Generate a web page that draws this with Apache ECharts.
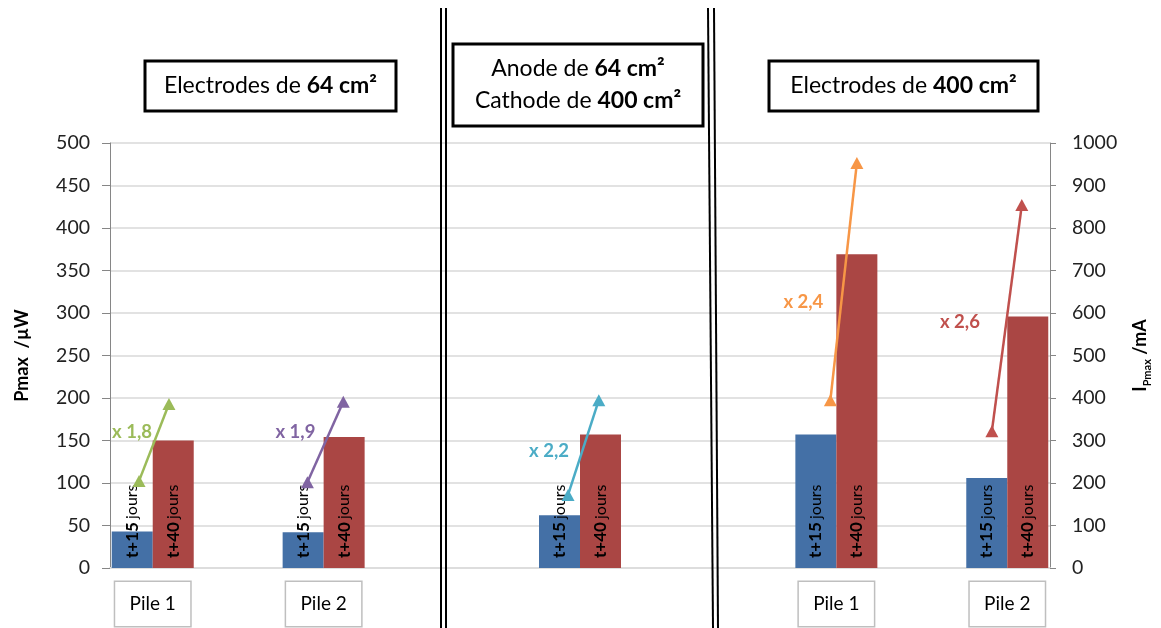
<!DOCTYPE html>
<html>
<head>
<meta charset="utf-8">
<script src="https://cdn.jsdelivr.net/npm/echarts@6/dist/echarts.min.js"></script>
<style>
html,body{margin:0;padding:0;background:#fff;}
#chart{width:1161px;height:628px;}
</style>
</head>
<body>
<div id="chart"></div>
<script>
// ---- data ----
const categories = ['Pile 1', '', 'Pile 2', '', '', '', '', '', 'Pile 1', '', 'Pile 2'];
const seriesNames = ['t+15 jours', 't+40 jours'];
const pmaxT15 = [43, null, 42, null, null, 62, null, null, 157, null, 106];
const pmaxT40 = [150, null, 154, null, null, 157, null, null, 369, null, 296];
const leftTicks = [0, 50, 100, 150, 200, 250, 300, 350, 400, 450, 500];
const rightTicks = [0, 100, 200, 300, 400, 500, 600, 700, 800, 900, 1000];
// I_Pmax arrows (x in category units, y in mA): [start t+15, end t+40]
const ipmaxArrow1 = [[0.34, 205], [0.69, 386]];
const ipmaxArrow2 = [[2.31, 202], [2.73, 391]];
const ipmaxArrow3 = [[5.36, 172], [5.72, 395]];
const ipmaxArrow4 = [[8.43, 395], [8.74, 953]];
const ipmaxArrow5 = [[10.32, 322], [10.67, 854]];
const ratioLabels = ['x 1,8', 'x 1,9', 'x 2,2', 'x 2,4', 'x 2,6'];
const groupTitles = ['Electrodes de {b|64 cm²}', 'Anode de {b|64 cm²}\nCathode de {b|400 cm²}', 'Electrodes de {b|400 cm²}'];

// ---- styles ----
const FONT = 'Lato, "Open Sans", sans-serif';
const arrowColors = ['#9BBB59', '#8064A2', '#4BACC6', '#F79646', '#C0504D'];
const labelOffsets = [[-7, -49], [-12, -50], [-19, -44], [-27, -98], [-32, -109]];
const arrows = [ipmaxArrow1, ipmaxArrow2, ipmaxArrow3, ipmaxArrow4, ipmaxArrow5];

const chart = echarts.init(document.getElementById('chart'));

function barLabel(prefix) {
  return {
    show: true,
    position: 'insideBottom',
    rotate: 90,
    align: 'left',
    verticalAlign: 'middle',
    distance: 10,
    formatter: function (p) { return p.value == null ? '' : '{b|' + prefix + '} {n|jours}'; },
    rich: {
      b: { fontFamily: FONT, fontSize: 17, fontWeight: 'bold', color: '#000' },
      n: { fontFamily: FONT, fontSize: 16, color: '#000' }
    }
  };
}

const lineSeries = arrows.map(function (pts, i) {
  return {
    type: 'line',
    xAxisIndex: 1,
    yAxisIndex: 1,
    z: 5,
    symbol: 'triangle',
    symbolSize: [13, 12],
    color: arrowColors[i],
    lineStyle: { color: arrowColors[i], width: 2.5 },
    itemStyle: { color: arrowColors[i] },
    data: pts.map(function (p, j) {
      if (j === 0) {
        return {
          value: p,
          label: {
            show: true,
            position: 'inside',
            offset: labelOffsets[i],
            formatter: ratioLabels[i],
            fontFamily: FONT,
            fontSize: 18.5,
            fontWeight: 'bold',
            color: arrowColors[i]
          }
        };
      }
      return { value: p };
    }),
    animation: false
  };
});

const titleBoxes = [
  { x: 145, y: 61, w: 251, h: 50 },
  { x: 453, y: 44, w: 250, h: 82 },
  { x: 769, y: 61, w: 269, h: 50 }
];

const graphics = [];
titleBoxes.forEach(function (b, i) {
  graphics.push({
    type: 'rect',
    shape: { x: b.x, y: b.y, width: b.w, height: b.h },
    style: { fill: '#fff', stroke: '#000', lineWidth: 3 },
    z: 100
  });
  graphics.push({
    type: 'text',
    x: b.x + b.w / 2,
    y: b.y + b.h / 2,
    z: 101,
    style: {
      text: groupTitles[i],
      fontFamily: FONT,
      fontSize: 23,
      fill: '#000',
      align: 'center',
      verticalAlign: 'middle',
      lineHeight: 32,
      rich: {
        b: { fontFamily: FONT, fontSize: 23, fontWeight: 'bold', fill: '#000', lineHeight: 32 }
      }
    }
  });
});
// double separators
[[441, 441], [446, 446], [708, 713], [714, 718]].forEach(function (xs) {
  graphics.push({
    type: 'line',
    shape: { x1: xs[0], y1: 8, x2: xs[1], y2: 628 },
    style: { stroke: '#000', lineWidth: 2 },
    z: 100
  });
});

const option = {
  animation: false,
  textStyle: { fontFamily: FONT },
  grid: { left: 110, right: 111, top: 143, bottom: 60, containLabel: false },
  xAxis: [
    {
      type: 'category',
      data: categories,
      axisLine: { show: true, lineStyle: { color: '#DDDDDD', width: 2 } },
      axisTick: { show: false },
      splitLine: { show: false },
      axisLabel: {
        interval: 0,
        margin: 14,
        formatter: function (v) { return v ? '{box|' + v + '}' : ''; },
        rich: {
          box: {
            width: 75,
            height: 44,
            lineHeight: 44,
            align: 'center',
            borderColor: '#BFBFBF',
            borderWidth: 1.5,
            backgroundColor: '#fff',
            fontFamily: FONT,
            fontSize: 19,
            color: '#000'
          }
        }
      }
    },
    { type: 'value', min: 0, max: 11, show: false }
  ],
  yAxis: [
    {
      type: 'value',
      min: leftTicks[0],
      max: leftTicks[leftTicks.length - 1],
      interval: leftTicks[1] - leftTicks[0],
      position: 'left',
      name: 'Pmax  /µW',
      nameLocation: 'middle',
      nameGap: 79,
      nameRotate: 90,
      nameTextStyle: { fontFamily: FONT, fontSize: 18, fontWeight: 'bold', color: '#000' },
      axisLine: { show: true, lineStyle: { color: '#868686', width: 1 } },
      axisTick: { show: true, length: 8, lineStyle: { color: '#868686' } },
      axisLabel: { margin: 20, fontFamily: FONT, fontSize: 19.5, color: '#222' },
      splitLine: { show: true, lineStyle: { color: '#D9D9D9', width: 1.5 } }
    },
    {
      type: 'value',
      min: rightTicks[0],
      max: rightTicks[rightTicks.length - 1],
      interval: rightTicks[1] - rightTicks[0],
      position: 'right',
      name: '{b|I}{s|Pmax}{b| /mA}',
      nameLocation: 'middle',
      nameGap: 81,
      nameRotate: 90,
      nameTextStyle: {
        rich: {
          b: { fontFamily: FONT, fontSize: 18, fontWeight: 'bold', color: '#000', verticalAlign: 'bottom' },
          s: { fontFamily: FONT, fontSize: 11, fontWeight: 'bold', color: '#000', verticalAlign: 'bottom', padding: [0, 0, -4, 0] }
        }
      },
      axisLine: { show: true, lineStyle: { color: '#868686', width: 1 } },
      axisTick: { show: true, length: 6, lineStyle: { color: '#868686' } },
      axisLabel: { margin: 22, fontFamily: FONT, fontSize: 19.5, color: '#222', formatter: function (v) { return String(v); } },
      splitLine: { show: false }
    }
  ],
  series: [
    {
      name: seriesNames[0],
      type: 'bar',
      xAxisIndex: 0,
      yAxisIndex: 0,
      barWidth: 41,
      barGap: '0%',
      itemStyle: { color: '#4470A6' },
      label: barLabel('t+15'),
      data: pmaxT15
    },
    {
      name: seriesNames[1],
      type: 'bar',
      xAxisIndex: 0,
      yAxisIndex: 0,
      barWidth: 41,
      barGap: '0%',
      itemStyle: { color: '#AA4644' },
      label: barLabel('t+40'),
      data: pmaxT40
    }
  ].concat(lineSeries),
  graphic: graphics
};

chart.setOption(option);
</script>
</body>
</html>
